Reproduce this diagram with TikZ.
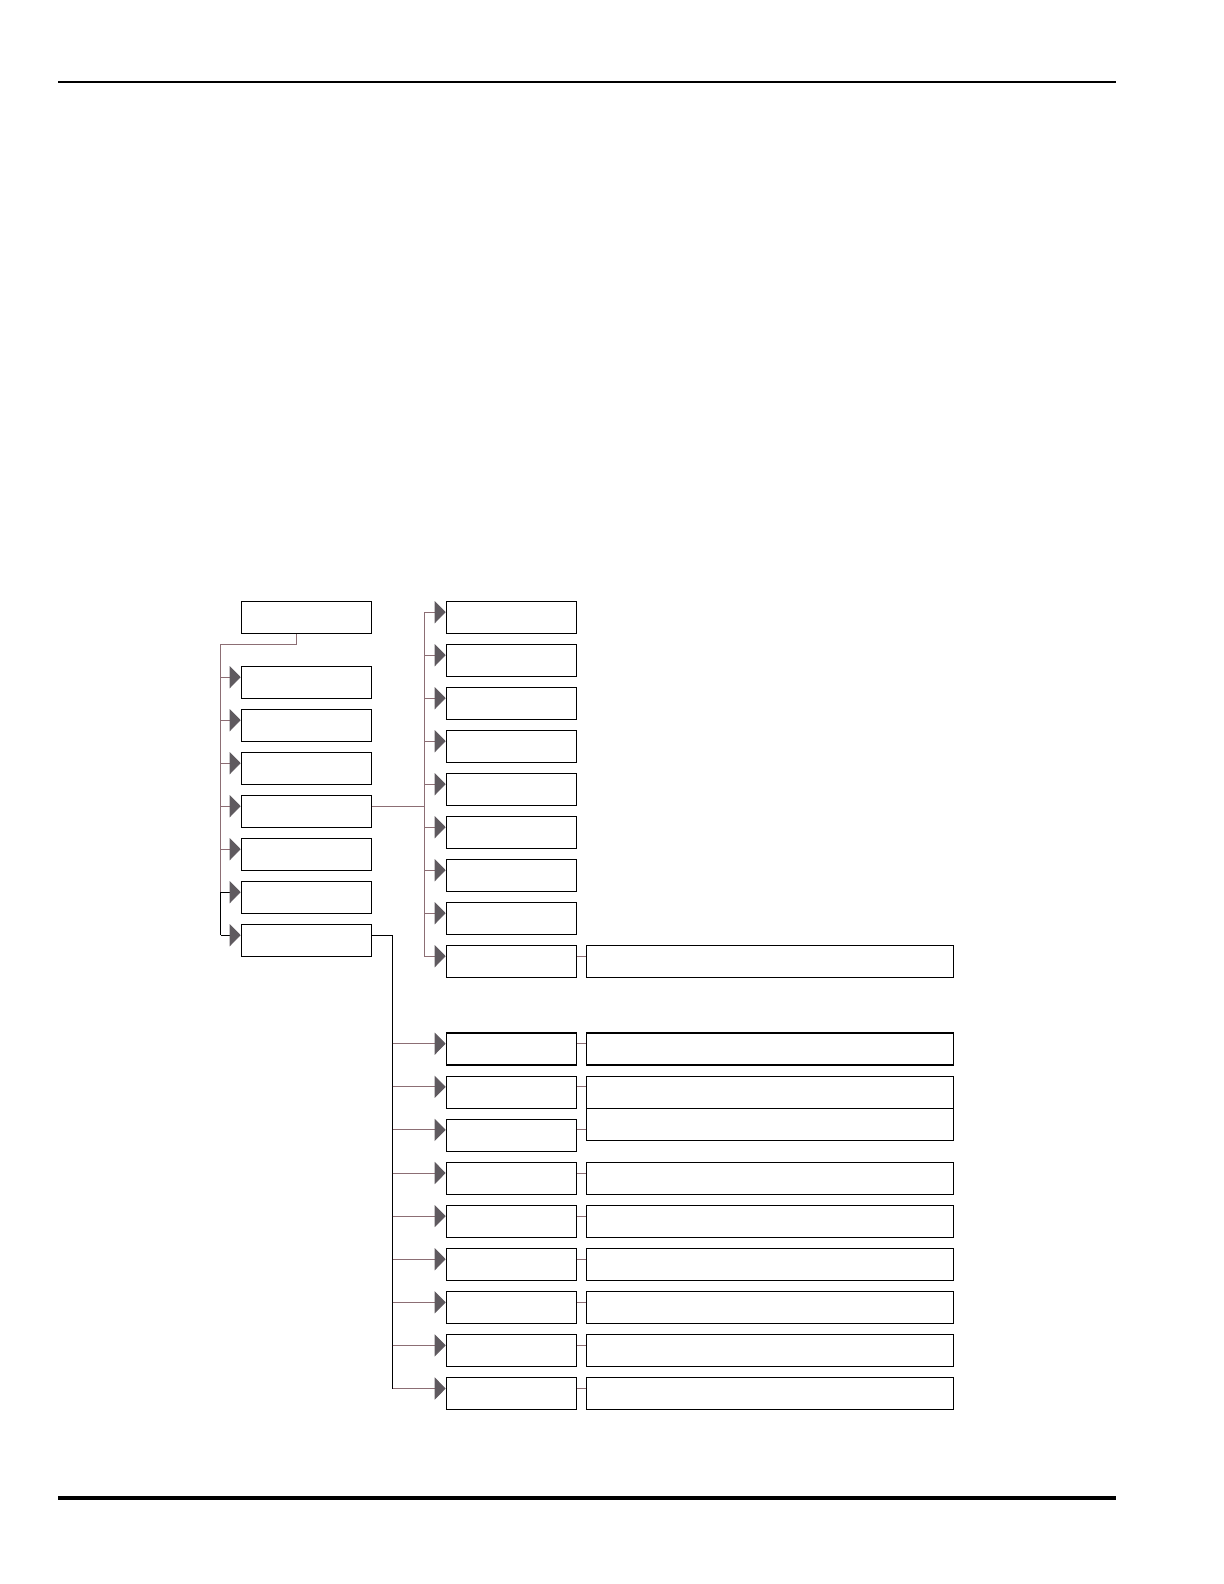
\documentclass[tikz,border=0pt]{standalone}
\usepackage{tikz}
\usetikzlibrary{arrows.meta}
\usetikzlibrary{positioning}
\usetikzlibrary{calc}
\definecolor{linkred}{RGB}{140,110,116}
\definecolor{tipgray}{RGB}{95,90,95}

\begin{document}
\begin{tikzpicture}[x=0.5pt,y=-0.5pt]
\tikzstyle{box}=[draw,rectangle,minimum width=65pt,minimum height=16pt,inner sep=0pt,line width=0.6pt]
\tikzstyle{wide}=[box,minimum width=183.3pt]
\tikzstyle{link}=[draw=linkred,line width=0.5pt]
\tikzstyle{feed}=[link,-{Triangle[length=5.5pt,width=11pt,color=tipgray]}]
\useasboundingbox (0,0) rectangle (1224,1584);

% page rules
\draw[line width=1pt] (58,81.7) -- (1115.7,81.7);
\draw[line width=2.15pt] (58,1497.8) -- (1115.7,1497.8);

% first column
\node [box] (root) at (306.3,617.5) {};
\foreach \i in {1,...,7} {
  \node [box] (a\i) at (306.3,{682.5+43*(\i-1)}) {};
  \coordinate (ia\i) at ([yshift=2.65pt]a\i.west);
}

% second column
\foreach \j in {1,...,9} {
  \node [box] (b\j) at (511.3,{617.5+43*(\j-1)}) {};
  \coordinate (ib\j) at ([yshift=2.65pt]b\j.west);
}
\node [wide, right=4.6pt of b9] (d0) {};

% third column
\foreach \k in {1,...,9} {
  \node [box] (c\k) at (511.3,{1049+43.1*(\k-1)}) {};
  \coordinate (ic\k) at ([yshift=2.65pt]c\k.west);
}
\foreach \k in {1,2,4,5,6,7,8,9}
  \node [wide, right=4.6pt of c\k] (d\k) {};
\node [wide, below=-0.6pt of d2] (d3) {};

% trunk of the first column
\coordinate (atop) at (220.7,644.3);
\draw[link] ([xshift=-5.15pt]root.south) |- (atop);
\draw[link] (atop) -- (atop |- ia6);
\draw[line width=0.6pt] (atop |- ia6) -- (atop |- ia7);
\foreach \i in {1,...,5}
  \draw[feed] (atop |- ia\i) -- (ia\i);
\foreach \i in {6,7}
  \draw[feed,draw=black] (atop |- ia\i) -- (ia\i);

% trunk of the second column
\coordinate (bx) at (424.3,0);
\draw[link] (ia4 -| a4.east) -- (ia4 -| bx);
\draw[link] (bx |- ib1) -- (bx |- ib9);
\foreach \j in {1,...,9}
  \draw[feed] (bx |- ib\j) -- (ib\j);
\draw[link] (ib9 -| b9.east) -- (ib9 -| d0.west);

% trunk of the third column
\coordinate (cx) at (392.7,0);
\draw[line width=0.6pt] (ia7 -| a7.east) -| (cx |- ic9);
\foreach \k in {1,...,9} {
  \draw[feed] (cx |- ic\k) -- (ic\k);
  \draw[link] (ic\k -| c\k.east) -- (ic\k -| d\k.west);
}
\end{tikzpicture}
\end{document}
